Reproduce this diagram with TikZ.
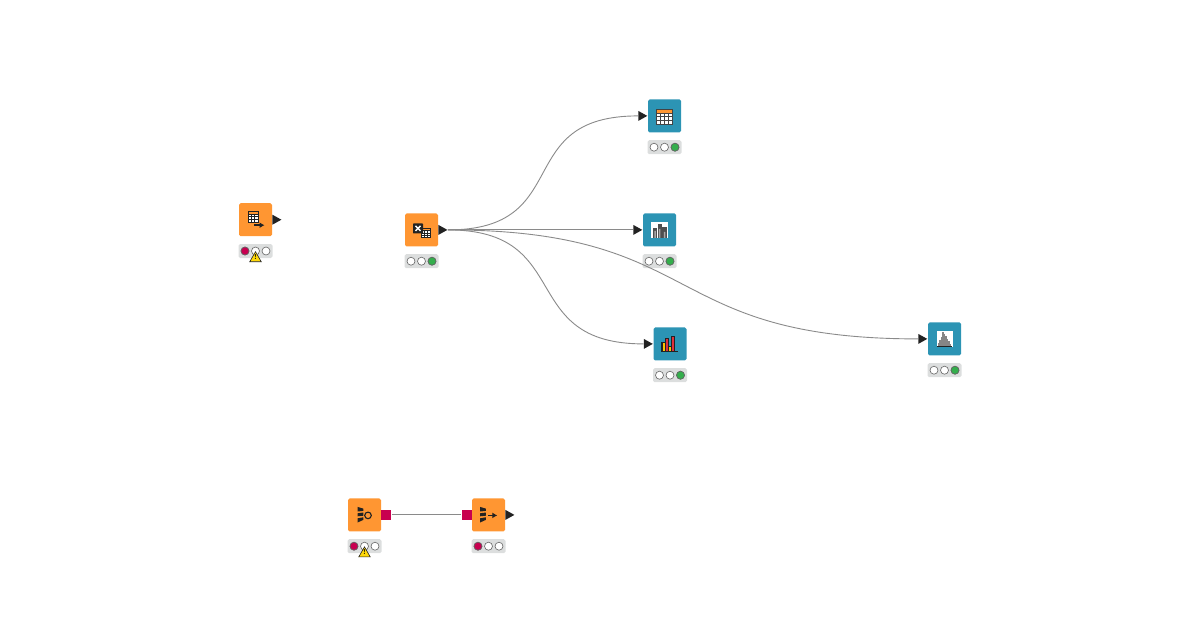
\documentclass[tikz,border=0pt]{standalone}
\usepackage{amsmath}
\usetikzlibrary{shapes.geometric,arrows.meta}

\definecolor{nodeorange}{HTML}{FF9632}
\definecolor{nodeblue}{HTML}{2C94B4}
\definecolor{portdark}{HTML}{222222}
\definecolor{portred}{HTML}{C8004F}
\definecolor{lampred}{HTML}{C80050}
\definecolor{lampgreen}{HTML}{34AE4C}
\definecolor{barbg}{HTML}{DCDEDE}
\definecolor{wirecol}{HTML}{8A8A8A}
\definecolor{warnyellow}{HTML}{FFD80A}
\definecolor{baryellow}{HTML}{FFC400}
\definecolor{barred}{HTML}{E0303C}

\tikzset{
  wfbox/.style={draw=none, rounded corners=1.6pt, minimum size=33pt, inner sep=0pt},
  statusbar/.style={fill=barbg, rounded corners=1.6pt, minimum width=34pt, minimum height=14pt, inner sep=0pt},
  lamp/.style={circle, draw=portdark!70, line width=.6pt, minimum size=8pt, inner sep=0pt},
  dataport/.style={isosceles triangle, isosceles triangle stretches, shape border rotate=0,
    fill=portdark, inner sep=0pt, minimum width=10pt, minimum height=9pt},
  modelport/.style={fill=portred, inner sep=0pt, minimum size=10pt},
  warnsign/.style={isosceles triangle, isosceles triangle stretches, shape border rotate=90,
    fill=warnyellow, draw=portdark, line width=.6pt, inner sep=0pt, minimum width=11.5pt, minimum height=10pt},
  wire/.style={draw=wirecol, line width=.9pt},
  iconarrow/.style={portdark, line width=1.7pt, -{Latex[length=5pt,width=6pt]}},
  pics/wedges/.style={code={
    \fill[portdark] (-3,-8) -- (2.8,-6.3) -- (2.8,-4) -- (-3,-3.4) -- cycle;
    \fill[portdark] (-3,-1.6) -- (2.8,-2.4) -- (2.8,.8) -- (-3,1.4) -- cycle;
    \fill[portdark] (-3,3.4) -- (2.8,2.4) -- (2.8,5) -- (-3,7.6) -- cycle;
  }},
  pics/iconimport/.style={code={
    \fill[white] (-7.5,-8) rectangle (2.5,2.5);
    \fill[nodeorange] (-7.5,-8) rectangle (2.5,-5.5);
    \draw[portdark, line width=.7pt] (-7.5,-8) rectangle (2.5,2.5)
      (-7.5,-5.5) -- (2.5,-5.5) (-7.5,-3) -- (2.5,-3) (-7.5,-.3) -- (2.5,-.3)
      (-4.2,-5.5) -- (-4.2,2.5) (-.8,-5.5) -- (-.8,2.5);
    \draw[iconarrow] (-1.5,5.5) -- (9,5.5);
  }},
  pics/iconcross/.style={code={
    \fill[white] (-.5,-1.5) rectangle (8.5,7.5);
    \fill[nodeorange] (-.5,-1.5) rectangle (8.5,.8);
    \draw[portdark, line width=.6pt] (-.5,-1.5) rectangle (8.5,7.5)
      (-.5,.8) -- (8.5,.8) (-.5,3.2) -- (8.5,3.2) (-.5,5.4) -- (8.5,5.4)
      (2.5,.8) -- (2.5,7.5) (5.5,.8) -- (5.5,7.5);
    \fill[portdark, rounded corners=.6pt] (-8.5,-6.5) rectangle (1.5,3.5);
    \draw[white, line width=1.5pt] (-6,-4) -- (-1,1) (-1,-4) -- (-6,1);
  }},
  pics/icontable/.style={code={
    \fill[white] (-8,-6.5) rectangle (8,8);
    \fill[nodeorange] (-8,-6.5) rectangle (8,-2.5);
    \draw[portdark!85, line width=.8pt] (-8,-6.5) rectangle (8,8)
      (-8,-2.5) -- (8,-2.5) (-8,.9) -- (8,.9) (-8,4.4) -- (8,4.4)
      (-4,-2.5) -- (-4,8) (0,-2.5) -- (0,8) (4,-2.5) -- (4,8);
  }},
  pics/iconbars/.style={code={
    \fill[white] (-8.5,-7.5) rectangle (8,8.5);
    \fill[portdark!80] (-7,-2) rectangle (-2.5,8);
    \fill[portdark!80] (-2,-6) rectangle (2.2,8);
    \fill[portdark!80] (2.7,-3) rectangle (7,8);
    \fill[white!60!portdark] (-5.2,1) rectangle (-3.7,8) (-.6,-1) rectangle (.9,8) (4.4,2) rectangle (5.8,8);
  }},
  pics/iconcolbars/.style={code={
    \fill[baryellow] (-7.5,-2) rectangle (-5,7.5);
    \fill[barred] (-4.6,-5.3) rectangle (-2,7.5);
    \fill[baryellow] (-1.6,2.5) rectangle (1,7.5);
    \fill[barred] (1.5,-7.5) rectangle (4.3,7.5);
    \draw[portdark, line width=.9pt] (-8.2,-2) -- (-8.2,7.7) -- (8,7.7);
    \draw[portdark, line width=.6pt] (-7.5,-2) rectangle (-5,7.5) (-4.6,-5.3) rectangle (-2,7.5)
      (-1.6,2.5) rectangle (1,7.5) (1.5,-7.5) rectangle (4.3,7.5);
  }},
  pics/iconhisto/.style={code={
    \fill[white] (-8,-8) rectangle (8,8);
    \foreach \hx/\hy in {-6/4,-4.5/1.5,-3/-1.5,-1.5/-7,0/-5,1.5/-3,3/0,4.5/2.5,6/5}
      \draw[portdark!55, line width=1.1pt] (\hx,6.8) -- (\hx,\hy);
    \draw[portdark, line width=.7pt] (-7.5,7) -- (7.5,7);
  }},
  pics/iconreader/.style={code={
    \pic at (-4,0) {wedges};
    \draw[portdark, line width=1.1pt] (3.5,.5) circle (3.3);
  }},
  pics/iconwriter/.style={code={
    \pic at (-5.5,0) {wedges};
    \draw[iconarrow] (-.5,.5) -- (8.8,.5);
  }},
}

\begin{document}
\begin{tikzpicture}[x=1pt,y=-1pt]
\useasboundingbox (0,0) rectangle (1200,630);

% workflow nodes with their status bars
\foreach \nid/\px/\py/\col/\lit in {
  tabin/255.5/219.7/nodeorange/1,
  crosstab/421.5/229.9/nodeorange/3,
  tableview/664.5/115.9/nodeblue/3,
  statsview/659.5/229.9/nodeblue/3,
  barchart/670/343.9/nodeblue/3,
  histogram/944.5/338.9/nodeblue/3,
  modelread/364.5/514.9/nodeorange/1,
  modelwrite/488.5/514.9/nodeorange/1}
{
  \node[wfbox, fill=\col] (\nid) at (\px,\py) {};
  \node[statusbar] (\nid-status) at (\px,\py+31.3) {};
  \node[lamp, fill=white] (\nid-lampa) at (\px-10.5,\py+31.3) {};
  \node[lamp, fill=white] (\nid-lampb) at (\px,\py+31.3) {};
  \node[lamp, fill=white] (\nid-lampc) at (\px+10.5,\py+31.3) {};
  \ifnum\lit=1 \node[lamp, fill=lampred] at (\nid-lampa) {}; \fi
  \ifnum\lit=3 \node[lamp, fill=lampgreen] at (\nid-lampc) {}; \fi
}

% icons
\pic at (tabin) {iconimport};
\pic at (crosstab) {iconcross};
\pic at (tableview) {icontable};
\pic at (statsview) {iconbars};
\pic at (barchart) {iconcolbars};
\pic at (histogram) {iconhisto};
\pic at (modelread) {iconreader};
\pic at (modelwrite) {iconwriter};

% connections
\node[dataport, anchor=lower side] (crosstab-out) at (crosstab.east) {};
\node[dataport, anchor=apex] (tableview-in) at (tableview.west) {};
\node[dataport, anchor=apex] (statsview-in) at (statsview.west) {};
\node[dataport, anchor=apex] (barchart-in) at (barchart.west) {};
\node[dataport, anchor=apex] (histogram-in) at (histogram.west) {};
\draw[wire] (crosstab-out.apex) .. controls +(128,0) and +(-128,0) .. (tableview-in.lower side);
\draw[wire] (crosstab-out.apex) -- (statsview-in.lower side);
\draw[wire] (crosstab-out.apex) .. controls +(128,0) and +(-128,0) .. (barchart-in.lower side);
\draw[wire] (crosstab-out.apex) .. controls +(260,0) and +(-260,0) .. (histogram-in.lower side);

% remaining ports
\node[dataport, anchor=lower side] (tabin-out) at (tabin.east) {};
\node[modelport, anchor=west] (modelread-out) at (modelread.east) {};
\node[modelport, anchor=east] (modelwrite-in) at (modelwrite.west) {};
\node[dataport, anchor=lower side] (modelwrite-out) at (modelwrite.east) {};
\draw[wire] (modelread-out.east) -- (modelwrite-in.west);

% warnings
\foreach \nid in {tabin,modelread}
  \node[warnsign, anchor=lower side, yshift=-11pt,
    label={[font=\fontsize{7}{7}\selectfont\bfseries, inner sep=0pt, yshift=-8.8pt]above:!}]
    (\nid-warn) at (\nid-status.center) {};
\end{tikzpicture}
\end{document}
